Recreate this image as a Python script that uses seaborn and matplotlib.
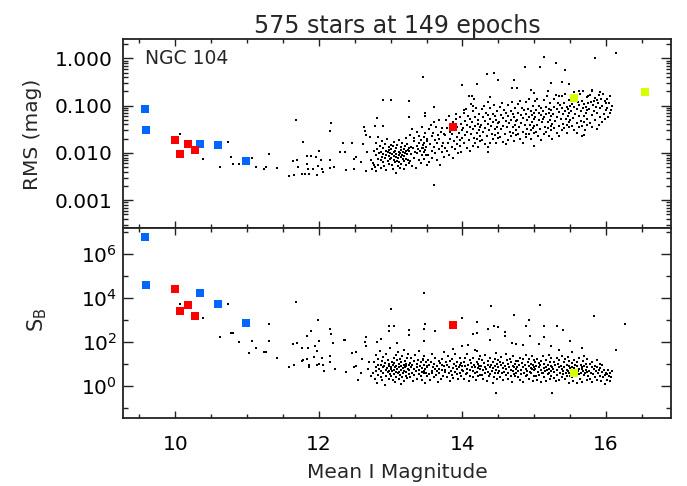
"""
RMS and S_B against mean I magnitude for the NGC 104 field (575 stars, 149 epochs)
"""
import numpy as np
import matplotlib
matplotlib.use('Agg')
import matplotlib.pyplot as plt
import matplotlib.ticker as mticker
import seaborn as sns

# ---------------------------------------------------------------
# Data (magnitudes, log10 RMS, log10 S_B)
# ---------------------------------------------------------------

# bright, sparse stars in the top panel
top_mag = [10.07, 10.38, 10.73, 10.62, 10.78, 10.81, 10.89, 11.07, 11.13, 11.23,
           11.27, 11.31, 11.42, 11.68, 11.78, 12.17, 12.16, 11.59, 11.66, 11.77,
           11.64, 11.69, 11.71, 11.80, 11.83, 11.83, 11.89, 11.85, 11.86, 11.92,
           11.98, 11.96, 12.00, 11.99, 12.03, 12.05, 12.06, 12.15, 12.16, 12.21,
           12.29, 12.36, 12.34, 12.38, 12.49, 12.51, 12.49, 12.62, 12.65, 12.67,
           12.63, 12.64, 12.66, 12.71, 12.81, 12.78, 12.89, 12.89, 12.46, 12.59,
           12.65, 12.74, 12.77, 12.72]
top_log_rms = [-1.60, -2.13, -1.77, -2.29, -2.09, -2.23, -2.23, -2.11, -2.29, -2.35,
               -2.29, -2.02, -2.31, -1.31, -1.77, -1.36, -1.53, -2.49, -2.47, -2.45,
               -2.16, -2.15, -2.30, -2.45, -2.24, -2.06, -2.06, -2.35, -2.45, -2.35,
               -2.47, -2.08, -1.96, -2.28, -2.15, -2.33, -2.40, -2.15, -2.31, -2.30,
               -1.98, -1.99, -1.79, -2.36, -2.33, -2.08, -2.12, -1.82, -2.39, -1.99,
               -1.45, -1.54, -1.61, -1.67, -1.27, -1.43, -1.44, -0.88, -1.79, -2.19,
               -2.38, -2.33, -2.25, -2.15]

# scattered stars above / below the main band, top panel
top_out_mag = [13.45, 14.00, 14.20, 13.01, 13.25, 13.61, 14.09, 14.13, 14.02, 13.91,
               13.48, 13.48, 13.25, 14.16, 14.12, 14.15, 14.34, 14.44, 14.49, 14.69,
               14.76, 14.72, 14.87, 15.08, 15.13, 15.30, 15.43, 15.84, 16.14, 15.24,
               15.38, 15.49, 14.95, 15.00, 15.19, 15.80, 15.63, 15.34, 14.39, 14.35,
               15.75, 15.90, 15.83, 16.00, 14.16, 13.61, 14.36, 14.99, 14.88, 15.70]
top_out_log_rms = [-0.39, -0.57, -0.54, -0.89, -0.90, -1.02, -0.79, -0.79, -1.10, -1.17,
                   -1.15, -1.21, -1.24, -0.86, -0.97, -1.00, -0.34, -0.31, -0.45, -0.63,
                   -0.63, -0.45, -0.19, -0.18, 0.03, -0.10, -0.25, 0.00, 0.12, -0.53,
                   -0.51, -0.54, -0.67, -0.74, -0.70, -0.67, -0.68, -0.79, -0.81, -0.92,
                   -0.80, -0.78, -0.90, -0.94, -0.85, -2.68, -1.99, -1.86, -1.60, -1.62]

# bright, sparse stars in the bottom panel
bot_mag = [10.07, 10.38, 10.74, 10.62, 10.77, 10.80, 10.89, 11.07, 11.02, 11.12,
           11.23, 11.27, 11.31, 11.31, 11.42, 11.68, 11.59, 11.66, 11.64, 11.70,
           11.77, 11.78, 11.77, 11.83, 11.85, 11.89, 11.83, 11.86, 11.86, 11.93,
           11.94, 11.98, 11.99, 12.00, 11.98, 12.00, 12.05, 12.06, 12.07, 12.15,
           12.17, 12.15, 12.16, 12.20, 12.22, 12.37, 12.38, 12.46, 12.49, 12.51,
           12.59, 12.65, 12.64, 12.66, 12.35, 12.51, 12.86, 12.81, 12.70, 12.72,
           12.68, 12.60, 12.55]
bot_log_sb = [3.74, 3.07, 3.74, 2.21, 2.42, 2.41, 2.01, 2.03, 1.50, 1.71,
              1.57, 1.53, 2.80, 2.03, 1.27, 3.83, 0.88, 0.97, 1.92, 1.95,
              1.15, 1.20, 1.71, 2.29, 1.75, 2.51, 1.24, 0.95, 0.86, 1.32,
              1.82, 1.60, 2.98, 2.06, 0.97, 1.00, 1.30, 0.97, 0.70, 2.57,
              2.35, 1.36, 1.09, 1.97, 0.77, 2.10, 0.66, 1.51, 0.85, 0.92,
              0.62, 2.21, 2.01, 1.82, 2.10, 1.55, 2.14, 2.00, 1.10, 0.45,
              0.80, 1.25, 0.30]

# scattered stars above / below the main band, bottom panel
bot_out_mag = [13.46, 13.01, 14.00, 12.98, 13.05, 12.98, 13.48, 13.62, 13.26, 13.26,
               13.09, 13.47, 14.20, 14.15, 15.08, 14.40, 15.83, 14.72, 16.26, 16.14,
               14.92, 14.20, 14.88, 15.14, 15.31, 14.44, 14.50, 14.35, 15.40, 14.59,
               14.59, 14.94, 15.14, 14.39, 15.50, 14.69, 14.74, 14.85, 15.06, 15.66,
               15.24, 15.35, 15.52, 13.46, 14.08, 14.20, 13.99, 13.87, 14.47]
bot_out_log_sb = [4.23, 3.51, 3.07, 2.74, 2.74, 2.48, 2.80, 2.51, 2.56, 2.30,
                  1.95, 2.06, 2.40, 2.36, 3.70, 3.64, 3.17, 3.21, 2.80, 1.65,
                  3.00, 2.91, 2.74, 2.74, 2.74, 2.74, 2.67, 2.60, 2.53, 2.44,
                  2.29, 2.29, 2.21, 2.10, 2.03, 1.95, 1.90, 1.88, 1.92, 1.73,
                  1.80, 1.65, 1.57, 2.59, 1.88, 1.58, 1.80, 1.68, -0.29]

# main band of fainter stars (same stars in both panels)
band_mag = [
    12.76, 12.77, 12.78, 12.79, 12.80, 12.80, 12.81, 12.82, 12.83, 12.83, 12.84, 12.85,
    12.86, 12.86, 12.87, 12.88, 12.88, 12.89, 12.90, 12.90, 12.91, 12.92, 12.92, 12.93,
    12.94, 12.94, 12.95, 12.96, 12.96, 12.97, 12.97, 12.98, 12.98, 12.99, 12.99, 13.00,
    13.01, 13.01, 13.02, 13.02, 13.03, 13.03, 13.04, 13.04, 13.05, 13.05, 13.06, 13.06,
    13.07, 13.07, 13.08, 13.08, 13.09, 13.09, 13.10, 13.10, 13.11, 13.11, 13.12, 13.12,
    13.13, 13.13, 13.14, 13.14, 13.15, 13.15, 13.16, 13.16, 13.17, 13.17, 13.18, 13.18,
    13.19, 13.19, 13.20, 13.20, 13.21, 13.21, 13.22, 13.22, 13.23, 13.23, 13.24, 13.24,
    13.25, 13.25,
    13.26, 13.27, 13.27, 13.28, 13.29, 13.30, 13.30, 13.31, 13.32, 13.33, 13.33, 13.34,
    13.35, 13.36, 13.36, 13.37, 13.38, 13.39, 13.39, 13.40, 13.41, 13.42, 13.42, 13.43,
    13.44, 13.44, 13.45, 13.46, 13.46, 13.47, 13.47, 13.48, 13.48, 13.49, 13.49, 13.50,
    13.50, 13.45,
    13.51, 13.52, 13.53, 13.54, 13.55, 13.56, 13.57, 13.57, 13.58, 13.59, 13.60, 13.61,
    13.62, 13.62, 13.63, 13.64, 13.65, 13.66, 13.67, 13.67, 13.68, 13.69, 13.70, 13.71,
    13.72, 13.72, 13.73, 13.74, 13.74, 13.75,
    13.76, 13.77, 13.78, 13.79, 13.80, 13.81, 13.81, 13.82, 13.83, 13.84, 13.85, 13.86,
    13.87, 13.87, 13.88, 13.89, 13.90, 13.91, 13.92, 13.92, 13.93, 13.94, 13.95, 13.96,
    13.96, 13.97, 13.98, 13.98, 13.99, 14.00,
    14.01, 14.02, 14.02, 14.03, 14.04, 14.05, 14.06, 14.06, 14.07, 14.08, 14.09, 14.10,
    14.10, 14.11, 14.12, 14.13, 14.14, 14.14, 14.15, 14.16, 14.17, 14.18, 14.18, 14.19,
    14.20, 14.20, 14.21, 14.22, 14.22, 14.23, 14.23, 14.24, 14.24, 14.25,
    14.26, 14.27, 14.27, 14.28, 14.29, 14.30, 14.31, 14.31, 14.32, 14.33, 14.34, 14.35,
    14.35, 14.36, 14.37, 14.38, 14.39, 14.39, 14.40, 14.41, 14.42, 14.43, 14.43, 14.44,
    14.45, 14.45, 14.46, 14.47, 14.47, 14.48, 14.48, 14.49, 14.49, 14.50,
    14.51, 14.52, 14.52, 14.53, 14.54, 14.55, 14.56, 14.56, 14.57, 14.58, 14.59, 14.60,
    14.60, 14.61, 14.62, 14.63, 14.64, 14.64, 14.65, 14.66, 14.67, 14.68, 14.68, 14.69,
    14.70, 14.70, 14.71, 14.72, 14.72, 14.73, 14.73, 14.74, 14.74, 14.75,
    14.76, 14.77, 14.77, 14.78, 14.79, 14.80, 14.80, 14.81, 14.82, 14.83, 14.84, 14.84,
    14.85, 14.86, 14.87, 14.88, 14.88, 14.89, 14.90, 14.90, 14.91, 14.92, 14.93, 14.93,
    14.94, 14.95, 14.95, 14.96, 14.97, 14.97, 14.98, 14.98, 14.99, 14.99, 15.00, 15.00,
    15.01, 15.01, 15.02, 15.03, 15.04, 15.04, 15.05, 15.06, 15.07, 15.07, 15.08, 15.09,
    15.10, 15.10, 15.11, 15.12, 15.13, 15.13, 15.14, 15.15, 15.16, 15.16, 15.17, 15.18,
    15.19, 15.19, 15.20, 15.21, 15.21, 15.22, 15.22, 15.23, 15.23, 15.24, 15.24, 15.25,
    15.25, 15.12,
    15.26, 15.27, 15.27, 15.28, 15.29, 15.30, 15.31, 15.31, 15.32, 15.33, 15.34, 15.35,
    15.35, 15.36, 15.37, 15.38, 15.38, 15.39, 15.40, 15.40, 15.41, 15.42, 15.43, 15.43,
    15.44, 15.45, 15.45, 15.46, 15.47, 15.47, 15.48, 15.48, 15.49, 15.49, 15.50, 15.50,
    15.51, 15.52, 15.52, 15.53, 15.54, 15.55, 15.56, 15.56, 15.57, 15.58, 15.59, 15.60,
    15.60, 15.61, 15.62, 15.63, 15.63, 15.64, 15.65, 15.65, 15.66, 15.67, 15.68, 15.68,
    15.69, 15.70, 15.70, 15.71, 15.72, 15.72, 15.73, 15.73, 15.74, 15.74, 15.75, 15.66,
    15.76, 15.77, 15.78, 15.79, 15.80, 15.80, 15.81, 15.82, 15.83, 15.84, 15.85, 15.86,
    15.87, 15.87, 15.88, 15.89, 15.90, 15.91, 15.92, 15.92, 15.93, 15.94, 15.95, 15.96,
    15.97, 15.98, 15.99, 16.00,
    16.01, 16.02, 16.03, 16.04, 16.05, 16.06, 16.07, 16.08]

band_log_rms = [
    -2.21, -1.95, -2.30, -1.78, -2.05, -2.38, -1.92, -2.12, -1.66, -2.26, -2.00, -1.85,
    -2.15, -2.32, -1.97, -1.74, -2.08, -2.19, -1.89, -2.02, -2.28, -1.81, -2.11, -1.95,
    -2.36, -2.04, -1.70, -1.99, -2.17, -2.07, -1.88, -2.24, -1.93, -2.01, -2.13, -1.84,
    -2.10, -1.92, -2.25, -2.03, -1.85, -2.33, -1.98, -2.14, -2.06, -1.76, -2.20, -1.95,
    -2.08, -2.42, -1.90, -2.02, -2.16, -1.83, -2.11, -2.27, -1.97, -2.05, -1.72, -2.19,
    -2.00, -2.31, -1.88, -2.09, -1.94, -2.23, -2.04, -1.80, -2.13, -1.99, -2.35, -1.91,
    -2.07, -2.18, -1.86, -2.01, -1.68, -2.12, -2.26, -1.96, -2.03, -1.82, -2.15, -1.93,
    -2.22, -1.89,
    -1.95, -1.62, -2.18, -1.88, -2.02, -1.50, -2.28, -1.90, -1.75, -2.10, -1.68, -1.97,
    -2.32, -1.85, -1.55, -2.00, -1.92, -1.64, -2.15, -1.80, -1.95, -2.22, -1.72, -1.89,
    -1.45, -2.05, -1.84, -1.98, -1.66, -2.12, -1.78, -1.93, -1.58, -2.05, -1.88, -1.70,
    -2.25, -1.90,
    -1.75, -2.05, -1.50, -2.20, -1.82, -1.40, -1.95, -1.65, -2.10, -1.58, -1.88, -1.35,
    -2.00, -1.72, -1.45, -2.15, -1.80, -1.62, -1.92, -1.30, -1.70, -2.25, -1.55, -1.85,
    -1.98, -1.48, -1.78, -2.08, -1.60, -1.90,
    -1.62, -1.30, -1.95, -1.48, -1.78, -1.22, -2.05, -1.55, -1.70, -1.40, -1.88, -1.60,
    -2.10, -1.35, -1.75, -1.50, -1.92, -1.28, -1.66, -1.82, -1.45, -2.00, -1.58, -1.25,
    -1.72, -1.85, -1.38, -1.98, -1.52, -1.68,
    -1.48, -1.15, -1.80, -1.32, -1.62, -1.08, -1.90, -1.40, -1.55, -1.22, -1.72, -1.45,
    -1.95, -1.28, -1.60, -1.35, -1.85, -1.12, -1.50, -1.68, -1.25, -1.78, -1.42, -1.05,
    -1.58, -1.70, -1.30, -1.88, -1.38, -1.52, -1.18, -1.65, -1.46, -1.75,
    -1.40, -1.08, -1.72, -1.25, -1.55, -1.00, -1.82, -1.32, -1.48, -1.15, -1.65, -1.38,
    -1.88, -1.20, -1.52, -1.28, -1.78, -1.05, -1.42, -1.60, -1.18, -1.70, -1.35, -0.98,
    -1.50, -1.62, -1.22, -1.80, -1.30, -1.45, -1.12, -1.58, -1.36, -1.68,
    -1.35, -1.02, -1.66, -1.20, -1.50, -0.95, -1.76, -1.26, -1.42, -1.10, -1.60, -1.32,
    -1.82, -1.15, -1.46, -1.22, -1.72, -0.98, -1.36, -1.55, -1.12, -1.65, -1.30, -0.92,
    -1.45, -1.58, -1.18, -1.75, -1.25, -1.40, -1.05, -1.52, -1.33, -1.62,
    -1.30, -0.96, -1.60, -1.15, -1.45, -0.90, -1.70, -1.20, -1.36, -1.05, -1.55, -1.26,
    -1.78, -1.10, -1.40, -1.18, -1.66, -0.92, -1.30, -1.50, -1.08, -1.60, -1.24, -0.85,
    -1.40, -1.52, -1.12, -1.70, -1.20, -1.35, -1.00, -1.47, -1.28, -1.58, -1.16, -1.42,
    -1.25, -0.90, -1.55, -1.10, -1.40, -0.85, -1.65, -1.15, -1.30, -1.00, -1.50, -1.20,
    -1.72, -1.05, -1.35, -1.12, -1.60, -0.88, -1.25, -1.45, -1.02, -1.55, -1.18, -0.80,
    -1.35, -1.48, -1.08, -1.65, -1.15, -1.30, -0.95, -1.42, -1.22, -1.52, -1.10, -1.38,
    -1.70, -1.28,
    -1.18, -0.85, -1.48, -1.02, -1.32, -0.78, -1.58, -1.08, -1.24, -0.95, -1.42, -1.14,
    -1.65, -0.98, -1.28, -1.05, -1.52, -0.80, -1.18, -1.38, -0.95, -1.48, -1.12, -0.75,
    -1.28, -1.40, -1.02, -1.58, -1.08, -1.22, -0.88, -1.35, -1.15, -1.45, -1.00, -1.30,
    -1.12, -0.80, -1.42, -0.96, -1.26, -0.72, -1.52, -1.02, -1.18, -0.88, -1.36, -1.08,
    -1.58, -0.92, -1.22, -0.98, -1.46, -0.75, -1.12, -1.32, -0.90, -1.42, -1.05, -0.70,
    -1.22, -1.35, -0.96, -1.52, -1.02, -1.16, -0.82, -1.28, -1.10, -1.40, -0.95, -1.65,
    -1.07, -0.78, -1.36, -0.92, -1.20, -0.70, -1.45, -0.98, -1.12, -0.84, -1.30, -1.02,
    -1.50, -0.88, -1.16, -0.95, -1.40, -0.72, -1.06, -1.25, -0.86, -1.35, -1.00, -0.75,
    -1.18, -1.28, -0.90, -1.10,
    -1.05, -0.85, -1.25, -0.95, -1.15, -0.80, -1.10, -1.00]

band_log_sb = [
    0.62, 1.10, 0.35, 0.88, 1.42, 0.71, 0.15, 0.95, 1.25, 0.52, 0.80, 1.60,
    0.40, 0.98, 0.67, 1.15, 0.28, 0.85, 1.33, 0.58, 0.92, 0.05, 1.05, 0.75,
    1.48, 0.45, 0.82, 1.20, 0.63, 0.90, 0.33, 1.02, 0.70, 1.75, 0.55, 0.87,
    0.80, 0.45, 1.12, 0.68, 0.95, 0.30, 1.30, 0.72, 0.55, 1.05, 0.88, 0.20,
    1.40, 0.63, 0.90, 0.40, 1.18, 0.77, 0.58, 1.55, 0.85, 0.35, 1.00, 0.66,
    1.22, 0.50, 0.93, 0.12, 1.08, 0.74, 0.42, 1.35, 0.82, 0.60, 0.98, 1.65,
    0.70, 0.25, 1.15, 0.86, 0.48, 1.02, 0.65, 0.92, 1.28, 0.38, 0.78, 1.45,
    0.57, 0.97,
    0.72, 1.05, 0.40, 0.88, 1.30, 0.60, 0.95, 0.22, 1.15, 0.78, 0.50, 1.42,
    0.68, 0.85, 1.00, 0.35, 1.20, 0.75, 0.55, 1.60, 0.90, 0.45, 1.10, 0.65,
    0.82, 0.30, 1.25, 0.70, 0.98, 0.58, 1.38, 0.80, 0.15, 1.08, 0.62, 0.93,
    0.48, 1.18,
    0.85, 1.20, 0.55, 0.95, 0.30, 1.10, 0.70, 1.45, 0.62, 0.88, 0.40, 1.02,
    0.78, 1.30, 0.50, 0.92, 0.68, 0.18, 1.15, 0.80, 0.58, 1.05, 0.35, 0.98,
    1.25, 0.72, 0.45, 0.90, 1.55, 0.65,
    0.75, 1.08, 0.42, 0.95, 1.35, 0.62, 0.88, 0.25, 1.15, 0.70, 0.52, 1.22,
    0.82, 0.38, 1.00, 0.66, 1.48, 0.90, 0.55, 0.78, 1.12, 0.32, 0.86, 1.28,
    0.60, 0.98, 0.45, 1.05, 0.72, 0.92,
    0.68, 1.10, 0.35, 0.92, 1.28, 0.55, 0.80, 1.45, 0.60, 0.98, 0.22, 1.18,
    0.75, 0.48, 1.05, 0.85, 0.40, 1.30, 0.70, 0.95, 0.58, 1.62, 0.88, 0.30,
    1.12, 0.65, 0.82, 1.02, 0.45, 0.90, 1.22, 0.52, 0.78, 1.38,
    0.92, 0.50, 1.20, 0.72, 0.35, 1.05, 0.85, 0.60, 1.40, 0.78, 0.25, 0.98,
    0.66, 1.15, 0.45, 0.88, 1.30, 0.55, 0.95, 0.70, 0.15, 1.08, 0.82, 0.40,
    1.25, 0.62, 0.90, 1.50, 0.75, 0.32, 1.00, 0.58, 0.86, 1.18,
    0.70, 1.12, 0.40, 0.95, 1.32, 0.58, 0.82, 0.28, 1.05, 0.65, 0.90, 1.45,
    0.52, 0.78, 1.18, 0.35, 1.00, 0.62, 0.88, 1.25, 0.45, 0.75, 1.08, 0.20,
    0.93, 0.68, 1.38, 0.55, 0.85, 1.02, 0.48, 0.80, 1.15, 0.60,
    0.85, 0.42, 1.15, 0.68, 0.95, 0.30, 1.30, 0.75, 0.55, 1.05, 0.88, 0.20,
    1.22, 0.62, 0.98, 0.45, 0.80, 1.40, 0.70, 0.50, 1.10, 0.92, 0.35, 1.25,
    0.66, 0.82, 1.00, 0.58, 1.35, 0.78, 0.25, 0.95, 0.72, 1.18, 0.48, 0.88,
    0.78, 1.10, 0.45, 0.92, 0.30, 1.25, 0.65, 0.85, 1.05, 0.52, 0.98, 0.18,
    1.15, 0.72, 0.60, 1.35, 0.82, 0.40, 1.02, 0.68, 0.88, 0.25, 1.20, 0.75,
    0.55, 0.95, 1.42, 0.62, 0.80, 1.08, 0.35, 0.90, 0.70, 1.30, 0.48, 0.85,
    -0.30, 0.58,
    0.80, 0.38, 1.12, 0.65, 0.95, 0.22, 1.28, 0.72, 0.50, 1.02, 0.88, 0.30,
    1.18, 0.60, 0.92, 0.42, 0.78, 1.38, 0.68, 0.55, 1.08, 0.85, 0.32, 1.22,
    0.62, 0.75, 0.98, 0.45, 1.32, 0.70, 0.15, 0.90, 0.58, 1.15, 0.82, 0.48,
    0.72, 1.05, 0.40, 0.88, 0.25, 1.20, 0.60, 0.82, 0.98, 0.48, 0.92, 0.15,
    1.12, 0.68, 0.55, 1.30, 0.78, 0.35, 0.95, 0.62, 0.85, 0.20, 1.15, 0.70,
    0.50, 0.90, 1.38, 0.58, 0.75, 1.02, 0.30, 0.86, 0.65, 1.25, 0.45, 0.80,
    0.70, 0.35, 1.00, 0.62, 0.85, 0.20, 1.10, 0.55, 0.78, 0.92, 0.42, 0.68,
    1.18, 0.30, 0.88, 0.58, 0.75, 1.02, 0.48, 0.82, 0.25, 0.95, 0.65, 0.40,
    0.72, 0.10, 0.52, 0.60,
    0.55, 0.30, 0.75, 0.48, 0.62, 0.25, 0.40, 0.70]

# highlighted stars (coloured squares)
blue_mag = [9.58, 9.59, 10.35, 10.60, 10.98]
blue_rms = [0.083, 0.030, 0.0151, 0.0144, 0.0069]
blue_sb = [5.9e6, 3.9e4, 1.7e4, 5.4e3, 7.2e2]

red_mag = [10.00, 10.07, 10.18, 10.27, 13.87]
red_rms = [0.019, 0.0093, 0.0158, 0.0118, 0.0355]
red_sb = [2.6e4, 2.6e3, 4.8e3, 1.5e3, 5.9e2]

yellow_mag = [15.56, 16.54]
yellow_rms = [0.142, 0.19]
yellow_sb = [3.9, np.nan]   # second one is off the bottom panel

# ---------------------------------------------------------------
# Figure
# ---------------------------------------------------------------
sns.set_style('ticks')
plt.rcParams['font.family'] = ['DejaVu Sans']
plt.rcParams['mathtext.fontset'] = 'dejavusans'

W, H = 687, 486
fig = plt.figure(figsize=(W / 100, H / 100), dpi=100)
fig.patch.set_facecolor('white')

ax_left = 122.7 / W
ax_width = (671 - 122.7) / W
ax_top = fig.add_axes([ax_left, 1 - 228.3 / H, ax_width, (228.3 - 39.3) / H])
ax_bot = fig.add_axes([ax_left, 1 - 418.3 / H, ax_width, (418.3 - 228.3) / H])

frame_col = '#222222'
dot_kw = dict(color='black', marker='s', s=3, linewidth=0, legend=False)
sq_kw = dict(marker='s', s=27, linewidth=0, legend=False, zorder=5)
c_blue, c_red, c_yellow = '#0066ff', '#ff0000', '#d8ff00'

for ax in (ax_top, ax_bot):
    ax.set_yscale('log')

# --- top panel: RMS
sns.scatterplot(x=top_mag, y=10 ** np.array(top_log_rms), ax=ax_top, **dot_kw)
sns.scatterplot(x=top_out_mag, y=10 ** np.array(top_out_log_rms), ax=ax_top, **dot_kw)
sns.scatterplot(x=band_mag, y=10 ** np.array(band_log_rms), ax=ax_top, **dot_kw)
sns.scatterplot(x=blue_mag, y=blue_rms, ax=ax_top, color=c_blue, **sq_kw)
sns.scatterplot(x=red_mag, y=red_rms, ax=ax_top, color=c_red, **sq_kw)
sns.scatterplot(x=yellow_mag, y=yellow_rms, ax=ax_top, color=c_yellow, **sq_kw)

# --- bottom panel: S_B
sns.scatterplot(x=bot_mag, y=10 ** np.array(bot_log_sb), ax=ax_bot, **dot_kw)
sns.scatterplot(x=bot_out_mag, y=10 ** np.array(bot_out_log_sb), ax=ax_bot, **dot_kw)
sns.scatterplot(x=band_mag, y=10 ** np.array(band_log_sb), ax=ax_bot, **dot_kw)
sns.scatterplot(x=blue_mag, y=blue_sb, ax=ax_bot, color=c_blue, **sq_kw)
sns.scatterplot(x=red_mag, y=red_sb, ax=ax_bot, color=c_red, **sq_kw)
sns.scatterplot(x=yellow_mag, y=yellow_sb, ax=ax_bot, color=c_yellow, **sq_kw)

# limits
for ax in (ax_top, ax_bot):
    ax.set_xlim(9.267, 16.905)
ax_top.set_ylim(2.55e-4, 2.53)
ax_bot.set_ylim(10 ** -1.45, 10 ** 7.15)

# ticks
for ax in (ax_top, ax_bot):
    ax.xaxis.set_major_locator(mticker.MultipleLocator(2))
    ax.xaxis.set_minor_locator(mticker.MultipleLocator(0.5))
    ax.tick_params(which='both', direction='in', top=True, right=True,
                   width=1.0, color=frame_col, labelsize=14.5, labelcolor='black')
    ax.tick_params(axis='x', which='major', length=5, pad=12)
    ax.tick_params(axis='x', which='minor', length=2.6)
    ax.tick_params(axis='y', which='major', length=7.5)
    ax.tick_params(axis='y', which='minor', length=3.8)
    for sp in ax.spines.values():
        sp.set_linewidth(1.3)
        sp.set_color(frame_col)
    ax.set_xlabel('')
    ax.set_ylabel('')

ax_top.tick_params(labelbottom=False)
ax_top.tick_params(axis='y', pad=7)
ax_top.yaxis.set_major_locator(mticker.FixedLocator([1e-3, 1e-2, 1e-1, 1.0]))
ax_top.yaxis.set_major_formatter(mticker.FuncFormatter(lambda v, p: f'{v:.3f}'))
ax_top.yaxis.set_minor_locator(mticker.LogLocator(base=10, subs=np.arange(2, 10), numticks=20))
ax_top.yaxis.set_minor_formatter(mticker.NullFormatter())

ax_bot.tick_params(axis='y', pad=4)
ax_bot.yaxis.set_major_locator(mticker.FixedLocator([1e0, 1e2, 1e4, 1e6]))
ax_bot.yaxis.set_major_formatter(
    mticker.FuncFormatter(lambda v, p: f'$10^{{{int(round(np.log10(v)))}}}$'))
ax_bot.yaxis.set_minor_locator(mticker.FixedLocator([1e-1, 1e1, 1e3, 1e5, 1e7]))
ax_bot.yaxis.set_minor_formatter(mticker.NullFormatter())

# text
ax_top.text(0.041, 0.869, 'NGC 104', transform=ax_top.transAxes,
            fontsize=13.5, ha='left', va='baseline')
fig.text(397 / W, 1 - 33 / H, '575 stars at 149 epochs', fontsize=17,
         ha='center', va='baseline')
fig.text(397 / W, 1 - 478 / H, 'Mean I Magnitude', fontsize=14.5,
         ha='center', va='baseline')
fig.text(33 / W, 1 - 134 / H, 'RMS (mag)', fontsize=14.5, rotation=90,
         ha='center', va='center')
fig.text(37 / W, 1 - 320 / H, r'S$_\mathregular{B}$', fontsize=15, rotation=90,
         ha='center', va='center')

fig.savefig('out.png', dpi=100, facecolor='white')
